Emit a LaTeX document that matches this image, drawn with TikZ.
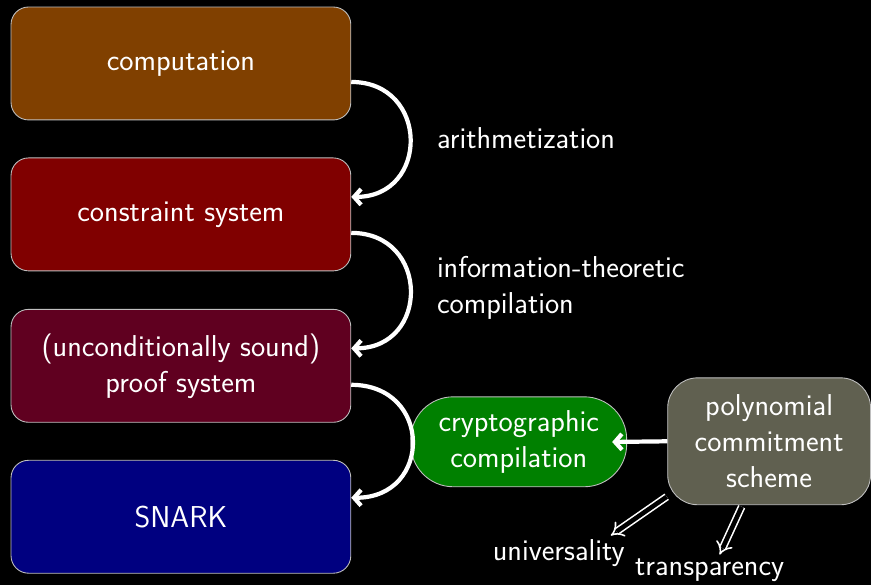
\documentclass[tikz,border=0pt]{standalone}
\usetikzlibrary{arrows.meta}

\definecolor{compbrown}{RGB}{128,64,0}
\definecolor{consred}{RGB}{128,0,0}
\definecolor{proofred}{RGB}{96,0,32}
\definecolor{snarkblue}{RGB}{0,0,128}
\definecolor{cryptgreen}{RGB}{0,128,0}
\definecolor{pcsgray}{RGB}{96,96,80}

\begin{document}
\begin{tikzpicture}[x=0.02cm, y=-0.02cm,
  every node/.style={text=white, font=\sffamily\fontsize{17.2}{20.5}\selectfont},
  stage/.style={draw=white!75!black, line width=0.5pt, rounded corners=0.35cm,
    minimum width=6.8cm, minimum height=2.26cm, align=center},
  curvearrow/.style={white, line width=2.4pt, -{Straight Barb[length=4pt,width=9pt]}},
  implies/.style={draw=white, double=black, line width=0.9pt,
    double distance=2.6pt, -{Implies}}]

% fundo
\fill[black] (0,0) rectangle (871,585);

% Etapas (de cima para baixo)
\node[stage, fill=compbrown]  (comp)  at (181,63.5)  {computation};
\node[stage, fill=consred]    (cons)  at (181,214.5) {constraint system};
\node[stage, fill=proofred]   (proof) at (181,366)   {(unconditionally sound)\\proof system};
\node[stage, fill=snarkblue]  (snark) at (181,517)   {SNARK};

% Compiladores
\node[draw=white!75!black, line width=0.5pt, fill=cryptgreen, rounded corners=0.85cm,
  minimum width=4.32cm, minimum height=1.8cm, align=center]
  (crypt) at (519,442) {cryptographic\\compilation};
\node[draw=white!75!black, line width=0.5pt, fill=pcsgray, rounded corners=0.6cm,
  minimum width=4.06cm, minimum height=2.54cm, align=center]
  (pcs) at (769.5,441.5) {polynomial\\commitment\\scheme};

% Setas curvas
\draw[curvearrow] ([yshift=-0.37cm]comp.east) to[out=0, in=0, looseness=1.75] ([yshift=0.35cm]cons.east);
\draw[curvearrow] ([yshift=-0.37cm]cons.east) to[out=0, in=0, looseness=1.75] ([yshift=0.35cm]proof.east);
\draw[curvearrow] ([yshift=-0.38cm]proof.east) to[out=0, in=0, looseness=1.85] ([yshift=0.38cm]snark.east);

\node[anchor=west] (arith) at (431,138) {arithmetization};
\node[anchor=west, align=left] (itc) at (431,288) {information-theoretic\\compilation};

% PCS -> compilacao
\draw[curvearrow, shorten >=-0.3cm] (pcs.west) -- (crypt.east);

% Propriedades
\node (univ)  at (559,553) {universality};
\node (trans) at (710,570) {transparency};
\draw[implies] (667,497) -- ([xshift=-0.4cm, yshift=-0.05cm]univ.north east);
\draw[implies] (742,507) -- ([xshift=0.2cm, yshift=-0.05cm]trans.north);

\end{tikzpicture}
\end{document}
